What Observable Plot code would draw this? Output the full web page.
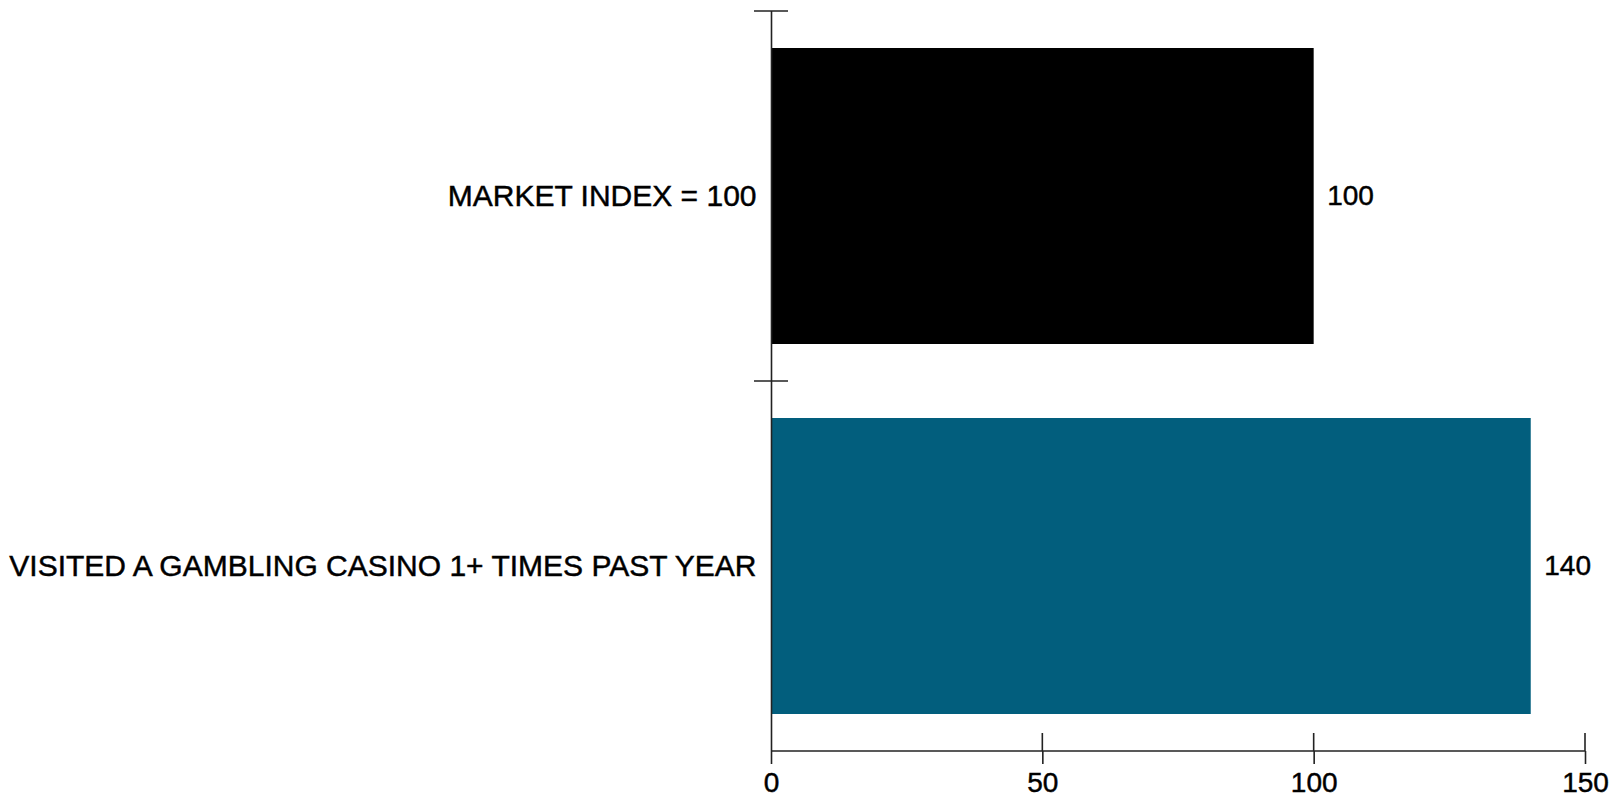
<!DOCTYPE html>
<html>
<head>
<meta charset="utf-8">
<script src="https://cdn.jsdelivr.net/npm/d3@7"></script>
<script src="https://cdn.jsdelivr.net/npm/@observablehq/plot@0.6"></script>
<style>
  html, body { margin: 0; padding: 0; background: #fff; }
  svg { display: block; }
  svg text { stroke: #000; stroke-width: 0.45px; }
</style>
</head>
<body>
<div id="chart"></div>
<script>
const categories = ["MARKET INDEX = 100", "VISITED A GAMBLING CASINO 1+ TIMES PAST YEAR"];
const values = [100, 140];
const barColors = ["#000000", "#025E7D"];
const xTicks = [0, 50, 100, 150];

const data = categories.map((c, i) => ({cat: c, value: values[i]}));
const FONT = "'Liberation Sans', Arial, Helvetica, sans-serif";

const plot = Plot.plot({
  width: 1617,
  height: 797,
  marginLeft: 771,
  marginRight: 32,
  marginTop: 11,
  marginBottom: 46,
  style: {fontFamily: FONT, color: "#000", background: "#fff"},
  x: {domain: [0, 150], ticks: xTicks, label: null},
  y: {domain: categories, paddingInner: 0.2, paddingOuter: 0.1, label: null},
  color: {domain: categories, range: barColors},
  marks: [
    Plot.barX(data, {x: "value", y: "cat", fill: "cat"}),
    Plot.text(data, {x: "value", y: "cat", text: d => String(d.value), textAnchor: "start", dx: 13, fontSize: 28, fill: "#000"}),
    Plot.axisY({tickSize: 0, tickPadding: 15, fontSize: 30, label: null}),
    Plot.axisX({ticks: xTicks, tickSize: 13, tickPadding: 8, fontSize: 28, label: null, stroke: "#222", strokeWidth: 1.6}),
    Plot.ruleX([0], {stroke: "#222", strokeWidth: 1.6})
  ]
});

document.getElementById("chart").appendChild(plot);

// axis line and crossing tick marks, positioned from the plot's own scales
const xs = plot.scale("x");
const ys = plot.scale("y");
const svg = d3.select(plot);
const g = svg.append("g").attr("stroke", "#222").attr("stroke-width", 1.6).attr("fill", "none");
const yBottom = Math.max(...ys.range);
const yTop = Math.min(...ys.range);
const x0 = xs.apply(0);
// horizontal x-axis line
g.append("line").attr("x1", x0).attr("x2", xs.apply(150)).attr("y1", yBottom).attr("y2", yBottom);
// upward part of x ticks
xTicks.filter(t => t !== 0).forEach(t => {
  g.append("line").attr("x1", xs.apply(t)).attr("x2", xs.apply(t)).attr("y1", yBottom).attr("y2", yBottom - 18);
});
// y ticks at band boundaries
categories.forEach((c, i) => {
  const yy = yTop + i * ys.step;
  g.append("line").attr("x1", x0 - 17).attr("x2", x0 + 17).attr("y1", yy).attr("y2", yy);
});
</script>
</body>
</html>
